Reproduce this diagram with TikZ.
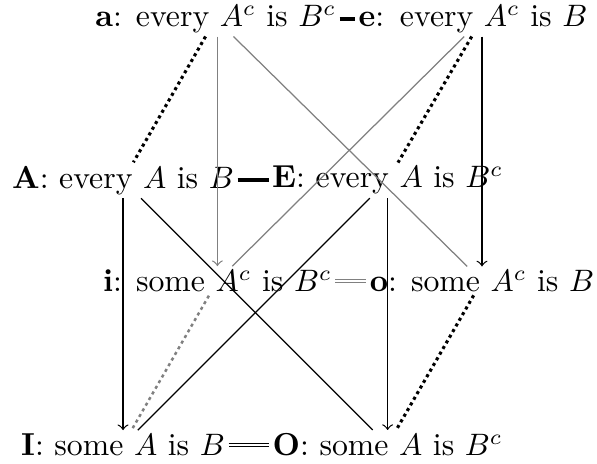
\documentclass[tikz,border=0pt]{standalone}
\begin{document}
\begin{tikzpicture}[every node/.style={inner sep=1pt, font=\fontsize{10.25pt}{12pt}\selectfont},
  puntini/.style={line width=1pt, dash pattern=on 1pt off 1.1pt}]
\useasboundingbox (-1.395,-0.215) rectangle (5.374,5.045);
% faccia davanti
\node (A) at (0,3) {\textbf{A}: every $A$ is $B$};
\node (E) at (3,3) {\textbf{E}: every $A$ is $B^c$};
\node (I) at (0,0) {\textbf{I}: some $A$ is $B$};
\node (O) at (3,0) {\textbf{O}: some $A$ is $B^c$};
% faccia dietro
\node (a) at (1.05,4.83) {\textbf{a}: every $A^c$ is $B^c$};
\node[text width=2.8cm, align=left] (e) at (4.07,4.83) {\textbf{e}: every $A^c$ is $B$};
\node (i) at (1.07,1.86) {\textbf{i}: some $A^c$ is $B^c$};
\node (o) at (4.07,1.86) {\textbf{o}: some $A^c$ is $B$};
% contrarie e subcontrarie
\draw[very thick] (a) -- (e);
\draw[very thick] (A) -- (E);
\draw[double, gray] (i) -- (o);
\draw[double] (I) -- (O);
% subalterne
\draw[->, gray] (a.south -| i) -- (i);
\draw[->] (e) -- (o);
\draw[->] (A) -- (I);
\draw[->] (E) -- (O);
% spigoli
\draw[puntini] (a) -- (A);
\draw[puntini] (e) -- (E);
\draw[puntini, gray, line width=0.8pt] (i) -- (I);
\draw[puntini] (o) -- (O);
% contraddittorie
\draw[gray] (a) -- (o);
\draw[gray] (e) -- (i);
\draw (A) -- (O);
\draw (E) -- (I);
\end{tikzpicture}
\end{document}
